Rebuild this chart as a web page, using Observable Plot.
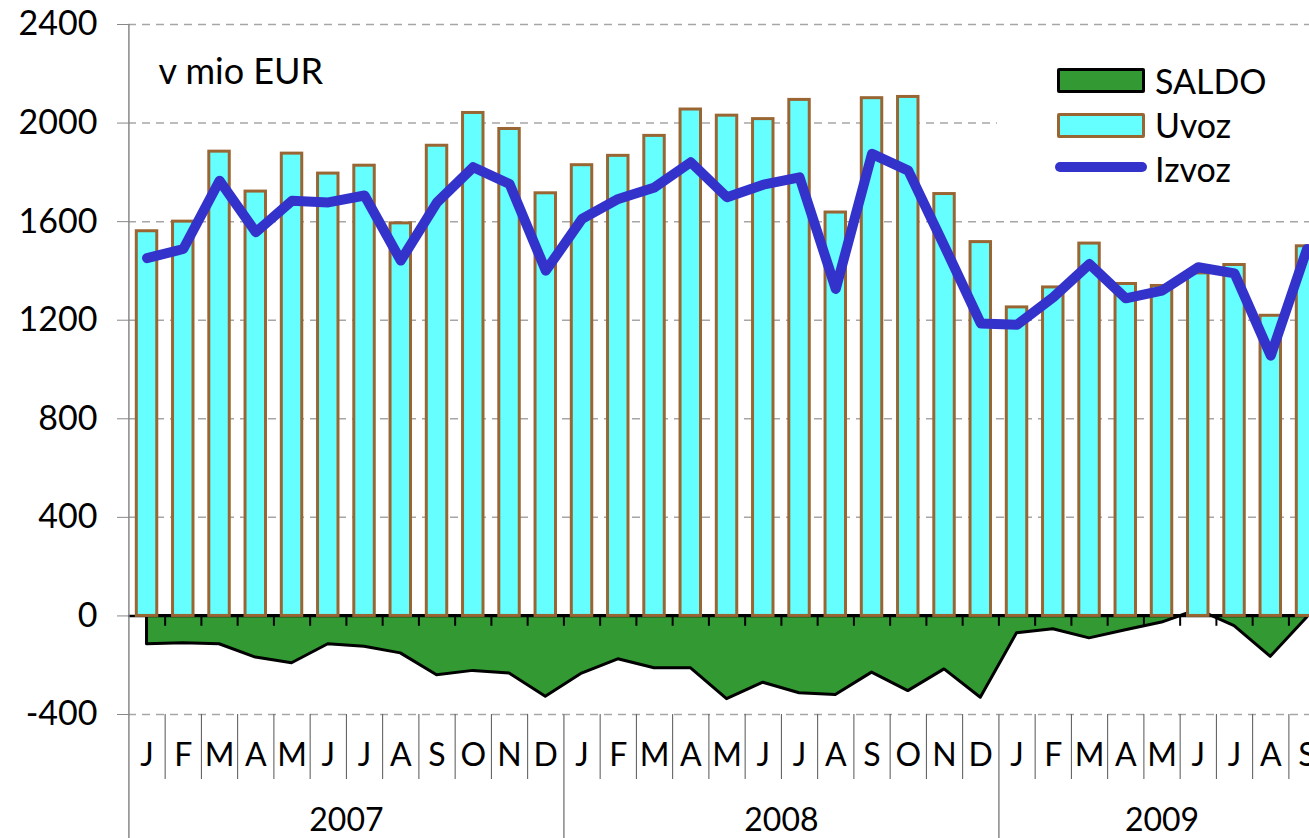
<!DOCTYPE html>
<html>
<head>
<meta charset="utf-8">
<script src="https://cdn.jsdelivr.net/npm/d3@7"></script>
<script src="https://cdn.jsdelivr.net/npm/@observablehq/plot@0.6"></script>
<style>
  html, body { margin: 0; padding: 0; background: white; overflow: hidden; }
  #chart { position: relative; width: 1309px; height: 838px; overflow: hidden; }
  #legend { position: absolute; left: 997px; top: 40px; width: 312px; height: 165px; background: white;
            font-family: Lato, sans-serif; font-size: 34px; line-height: 34px; color: black; }
  #legend .sw { position: absolute; left: 60px; width: 88px; height: 25px; box-sizing: border-box; border-radius: 2px; }
  #legend .tx { position: absolute; left: 158px; white-space: nowrap; }
</style>
</head>
<body>
<div id="chart">
  <div id="legend">
    <div class="sw" style="top:28px;background:#339933;border:3px solid #000;"></div>
    <div class="tx" style="top:24px;">SALDO</div>
    <div class="sw" style="top:73px;background:#66ffff;border:3px solid #996633;"></div>
    <div class="tx" style="top:68px;">Uvoz</div>
    <div class="sw" style="top:122px;height:10px;border-radius:5px;background:#3333cc;left:58px;width:92px;"></div>
    <div class="tx" style="top:112px;">Izvoz</div>
  </div>
</div>
<script>
const months = ["J","F","M","A","M","J","J","A","S","O","N","D"];
const years = ["2007","2008","2009"];
const yTicks = [-400, 0, 400, 800, 1200, 1600, 2000, 2400];
const unitLabel = "v mio EUR";

// Uvoz (imports), Jan 2007 .. Sep 2009
const uvoz = [1561,1600,1884,1722,1876,1795,1827,1593,1908,2041,1976,1715,
              1829,1867,1948,2055,2030,2016,2094,1637,2101,2106,1712,1517,
              1252,1333,1511,1347,1339,1390,1424,1218,1500];
// Izvoz (exports)
const izvoz = [1452,1489,1766,1557,1685,1678,1706,1442,1678,1821,1753,1401,
               1611,1692,1739,1841,1699,1750,1780,1327,1875,1807,1500,1187,
               1182,1293,1428,1289,1320,1415,1390,1056,1489];
// SALDO (balance)
const saldo = [-115,-111,-115,-169,-192,-115,-125,-152,-241,-223,-234,-328,
               -234,-176,-212,-212,-338,-271,-314,-321,-230,-305,-217,-332,
               -70,-54,-91,-58,-27,25,-41,-166,-7];

const data = uvoz.map((u, i) => ({i, uvoz: u, izvoz: izvoz[i], saldo: saldo[i]}));
const n = data.length;
const monthBounds = d3.range(1, n).filter(i => i % 12 !== 0);
const yearBounds = d3.range(0, n, 12);
// year label centred on the months of that year present in the data
const yearMids = yearBounds.map(b => (b + Math.min(b + 12, n)) / 2);

const chart = Plot.plot({
  width: 1309,
  height: 838,
  marginLeft: 128,
  marginRight: 0,
  marginTop: 24,
  marginBottom: 124,
  style: "font-family: Lato, sans-serif; background: white; overflow: hidden;",
  x: {type: "linear", domain: [0, n], range: [128.4, 128.4 + 36.25 * n]},
  y: {domain: [-400, 2400]},
  marks: [
    Plot.ruleY(yTicks.filter(v => v !== 0), {stroke: "#a6a6a6", strokeWidth: 1.5, strokeDasharray: "8,6"}),
    Plot.areaY(data, {x: d => d.i + 0.5, y: "saldo", fill: "#339933", stroke: "black", strokeWidth: 3, strokeLinejoin: "round"}),
    Plot.ruleY([0], {stroke: "black", strokeWidth: 2.5}),
    Plot.ruleX(d3.range(1, n), {y1: 0, y2: -42, stroke: "black", strokeWidth: 2}),
    Plot.rectY(data, {x1: d => d.i, x2: d => d.i + 1, y: "uvoz", fill: "#66ffff", stroke: "#996633", strokeWidth: 3, insetLeft: 7.9, insetRight: 7.9}),
    Plot.lineY(data, {x: d => d.i + 0.5, y: "izvoz", stroke: "#3333cc", strokeWidth: 10, strokeLinejoin: "round", strokeLinecap: "round"}),
    Plot.ruleX([0], {stroke: "#888", strokeWidth: 1.5}),
    Plot.axisY(yTicks, {tickSize: 11, tickPadding: 20, stroke: "#888", fill: "black", fontSize: 34, tickFormat: d => String(d)}),
    Plot.axisX(monthBounds, {tickSize: 65, stroke: "#555", strokeWidth: 1, tickFormat: () => ""}),
    Plot.axisX(yearBounds, {tickSize: 124, stroke: "#888", strokeWidth: 1.5, tickFormat: () => ""}),
    Plot.axisX(data.map(d => d.i + 0.5), {tickSize: 0, tickPadding: 29, fontSize: 32, fill: "black", tickFormat: v => months[Math.floor(v) % 12]}),
    Plot.axisX(yearMids, {tickSize: 0, tickPadding: 94, fontSize: 32, fill: "black", tickFormat: v => years[Math.floor(v / 12)]}),
    Plot.text([unitLabel], {frameAnchor: "top-left", dx: 30, dy: 34, lineAnchor: "top", textAnchor: "start", fontSize: 36, fill: "black"})
  ]
});
chart.style.maxWidth = "none";
document.getElementById("chart").prepend(chart);
</script>
</body>
</html>
